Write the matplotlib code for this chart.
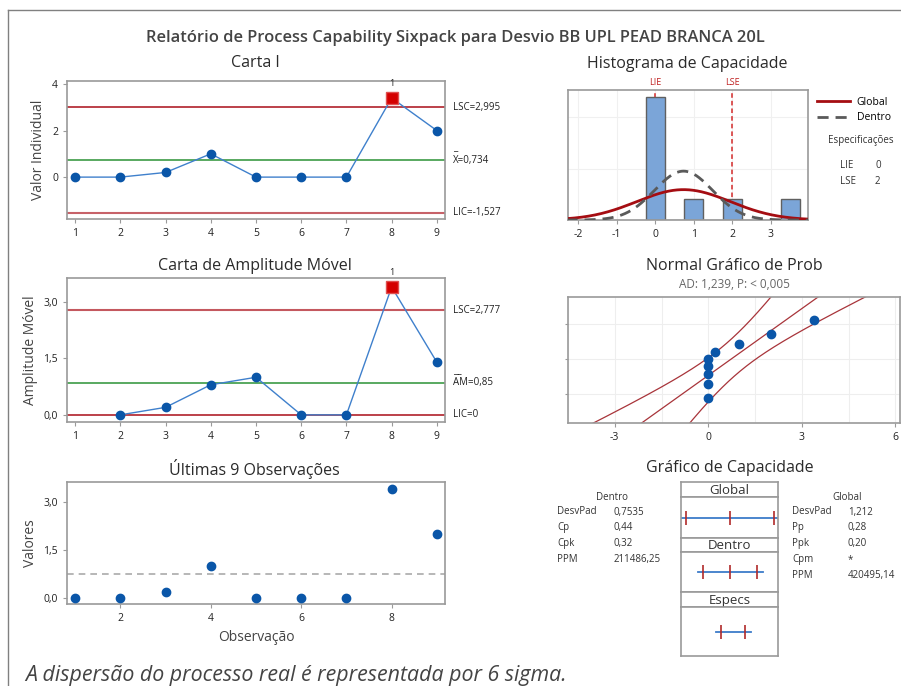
import numpy as np
import matplotlib
matplotlib.use("Agg")
import matplotlib.pyplot as plt
from matplotlib.lines import Line2D
from matplotlib.transforms import blended_transform_factory
from statistics import NormalDist

plt.rcParams['font.family'] = ['Open Sans', 'DejaVu Sans']
plt.rcParams['axes.unicode_minus'] = False

# %% data
obs = [1, 2, 3, 4, 5, 6, 7, 8, 9]
values = [0, 0, 0.2, 1.0, 0, 0, 0, 3.4, 2.0]
mr_obs = [2, 3, 4, 5, 6, 7, 8, 9]
mr_values = [0, 0.2, 0.8, 1.0, 0, 0, 3.4, 1.4]

mean_x = 0.734
lsc_i, lic_i = 2.995, -1.527
lsc_mr, am, lic_mr = 2.777, 0.85, 0
sd_within = 0.7535
sd_overall = 1.212
lie, lse = 0, 2

i_yticks = [0, 2, 4]
mr_yticks = [0, 1.5, 3.0]
mr_yticklabels = ['0,0', '1,5', '3,0']
last_xticks = [2, 4, 6, 8]
hist_xticks = [-2, -1, 0, 1, 2, 3]
prob_xticks = [-3, 0, 3, 6]

within_labels = ['DesvPad', 'Cp', 'Cpk', 'PPM']
within_values = ['0,7535', '0,44', '0,32', '211486,25']
overall_labels = ['DesvPad', 'Pp', 'Ppk', 'Cpm', 'PPM']
overall_values = ['1,212', '0,28', '0,20', '*', '420495,14']

# %% colours
pt_c = '#0a56a8'
ln_c = '#3f80cc'
red_c = '#b0202a'
grn_c = '#3c9b45'
spine_c = '#9a9a9a'
txt_c = '#333333'

W, H = 901, 686
fig = plt.figure(figsize=(W / 100, H / 100), dpi=100)


def px_axes(l, t, r, b):
    return fig.add_axes([l / W, 1 - b / H, (r - l) / W, (b - t) / H])


def style(ax):
    for s in ax.spines.values():
        s.set_color(spine_c)
        s.set_linewidth(1.2)
    ax.tick_params(labelsize=7.5, color=spine_c, labelcolor='#222', length=3, width=0.8)


def ftext(x, y, s, **kw):
    kw.setdefault('color', txt_c)
    return fig.text(x / W, 1 - y / H, s, **kw)


# frame
fig.add_artist(Line2D([8 / W, 8 / W], [0, 1 - 10 / H], transform=fig.transFigure, color='#808080', lw=1))
fig.add_artist(Line2D([8 / W, 1], [1 - 10 / H, 1 - 10 / H], transform=fig.transFigure, color='#808080', lw=1))

ftext(455, 38, 'Relatório de Process Capability Sixpack para Desvio BB UPL PEAD BRANCA 20L',
      ha='center', va='center', fontsize=11.9, fontweight='semibold', color='#444444')

vals = np.array(values)
out = vals > lsc_i
mr = np.array(mr_values)
mr_out = mr > lsc_mr

title_kw = dict(ha='center', va='center', fontsize=11.5, color='#2a2a2a')
small = 7


def limit_label(ax, y, s, bar=None):
    tr = blended_transform_factory(ax.transAxes, ax.transData)
    ax.text(1.02, y, s, transform=tr, fontsize=small, va='center', ha='left', color='#222')
    if bar:
        ax.annotate(bar, xy=(1.02, y), xycoords=tr, xytext=(0, 5), textcoords='offset points',
                    fontsize=small, va='bottom', ha='left', color='#222')


# %% Carta I
ax1 = px_axes(67, 81, 445, 219)
style(ax1)
ax1.axhline(lsc_i, color=red_c, lw=1.2, zorder=1)
ax1.axhline(mean_x, color=grn_c, lw=1.2, zorder=1)
ax1.axhline(lic_i, color=red_c, lw=1.5, alpha=0.7, zorder=1)
ax1.plot(obs, values, color=ln_c, lw=1, zorder=2)
ax1.plot(np.array(obs)[~out], vals[~out], 'o', color=pt_c, ms=6, zorder=3)
ax1.plot(np.array(obs)[out], vals[out], 's', color='#d40000', mec='#e05050', ms=8, zorder=3)
for xo, yo in zip(np.array(obs)[out], vals[out]):
    ax1.annotate('1', (xo, yo), xytext=(0, 7), textcoords='offset points', ha='center',
                 va='bottom', fontsize=6.5, color='#222')
ax1.set_xlim(0.82, 9.18)
ax1.set_ylim(-1.8, 4.13)
ax1.set_xticks(obs)
ax1.set_yticks(i_yticks)
ax1.set_ylabel('Valor Individual', fontsize=10, color='#444')
limit_label(ax1, lsc_i, 'LSC=2,995')
limit_label(ax1, mean_x, 'X=0,734', bar='_')
limit_label(ax1, lic_i, 'LIC=-1,527')
ftext(255, 63, 'Carta I', **title_kw)

# %% Carta de Amplitude Movel
ax2 = px_axes(67, 278, 445, 422)
style(ax2)
ax2.axhline(lsc_mr, color=red_c, lw=1.5, alpha=0.75, zorder=1)
ax2.axhline(am, color=grn_c, lw=1.2, zorder=1)
ax2.axhline(lic_mr, color=red_c, lw=1.2, zorder=1)
ax2.plot(mr_obs, mr_values, color=ln_c, lw=1, zorder=2)
ax2.plot(np.array(mr_obs)[~mr_out], mr[~mr_out], 'o', color=pt_c, ms=6, zorder=3)
ax2.plot(np.array(mr_obs)[mr_out], mr[mr_out], 's', color='#d40000', mec='#e05050', ms=8, zorder=3)
for xo, yo in zip(np.array(mr_obs)[mr_out], mr[mr_out]):
    ax2.annotate('1', (xo, yo), xytext=(0, 7), textcoords='offset points', ha='center',
                 va='bottom', fontsize=6.5, color='#222')
ax2.set_xlim(0.82, 9.18)
ax2.set_ylim(-0.19, 3.64)
ax2.set_xticks(obs)
ax2.set_yticks(mr_yticks)
ax2.set_yticklabels(mr_yticklabels)
ax2.set_ylabel('Amplitude Móvel', fontsize=10, color='#444')
limit_label(ax2, lsc_mr, 'LSC=2,777')
limit_label(ax2, am, 'AM=0,85', bar='__')
limit_label(ax2, lic_mr, 'LIC=0')
ftext(255, 266, 'Carta de Amplitude Móvel', **title_kw)

# %% Ultimas 9 Observacoes
ax3 = px_axes(67, 482, 445, 604)
style(ax3)
ax3.axhline(mean_x, color='#aaaaaa', lw=1.2, ls=(0, (4, 3)), zorder=1)
ax3.plot(obs, values, 'o', color=pt_c, ms=6, zorder=3)
ax3.set_xlim(0.82, 9.18)
ax3.set_ylim(-0.19, 3.62)
ax3.set_xticks(last_xticks)
ax3.set_yticks(mr_yticks)
ax3.set_yticklabels(mr_yticklabels)
ax3.set_ylabel('Valores', fontsize=10, color='#444')
ax3.set_xlabel('Observação', fontsize=10, color='#444')
ftext(254, 469, 'Últimas 9 Observações', **title_kw)

# %% Histograma de Capacidade
ax4 = px_axes(568, 90, 808, 220)
style(ax4)
ax4.set_axisbelow(True)
ax4.grid(True, color='#f0f0f0', lw=0.8)
ax4.hist(values, bins=np.arange(-0.25, 4.0, 0.5), color='#7ba5d8', edgecolor='#606060', lw=1, zorder=2)
xs = np.linspace(-2.3, 4.0, 300)
scale = len(values) * 0.5
pdf_g = scale * np.exp(-0.5 * ((xs - mean_x) / sd_overall) ** 2) / (sd_overall * np.sqrt(2 * np.pi))
pdf_w = scale * np.exp(-0.5 * ((xs - mean_x) / sd_within) ** 2) / (sd_within * np.sqrt(2 * np.pi))
h_g, = ax4.plot(xs, pdf_g, color='#a50d12', lw=2, zorder=4, label='Global')
h_w, = ax4.plot(xs, pdf_w, color='#5a5a5a', lw=2, ls=(0, (4, 2.5)), zorder=4, label='Dentro')
for sx, sl in [(lie, 'LIE'), (lse, 'LSE')]:
    ax4.axvline(sx, color='#d42a2a', lw=1.1, ls=(0, (3, 2)), zorder=1)
    ax4.text(sx, 1.02, sl, transform=blended_transform_factory(ax4.transData, ax4.transAxes),
             ha='center', va='bottom', fontsize=6.5, color='#c02020')
ax4.set_xlim(-2.26, 3.96)
ax4.set_ylim(0, 6.34)
ax4.set_xticks(hist_xticks)
ax4.set_yticks([0, 2.5, 5])
ax4.tick_params(axis='y', length=0, labelleft=False)
ax4.legend(handles=[h_g, h_w], loc='upper left', bbox_to_anchor=(1.02, 0.98), frameon=False,
           fontsize=7.5, handlelength=3.2, handletextpad=0.6, borderaxespad=0, labelspacing=0.45)
ftext(687, 64, 'Histograma de Capacidade', **title_kw)
ftext(861, 141, 'Especificações', ha='center', va='center', fontsize=small)
ftext(840, 165, 'LIE', ha='left', va='center', fontsize=small)
ftext(875, 165, '0', ha='left', va='center', fontsize=small)
ftext(840, 181, 'LSE', ha='left', va='center', fontsize=small)
ftext(875, 181, '2', ha='left', va='center', fontsize=small)

# %% Normal Grafico de Prob
nd = NormalDist()
ax5 = px_axes(568, 297, 900, 423)
style(ax5)
n = len(values)
srt = np.sort(vals)
zq = np.array([nd.inv_cdf((i - 0.3) / (n + 0.4)) for i in range(1, n + 1)])
zz = np.linspace(-2.7, 2.7, 200)
fit = mean_x + sd_overall * zz
half = 1.96 * sd_overall * np.sqrt((1 + zz ** 2 / 2) / n)
for band in (fit, fit - half, fit + half):
    ax5.plot(band, zz, color='#a8343a', lw=0.9, zorder=2)
ax5.plot(srt, zq, 'o', color=pt_c, ms=6, zorder=3)
ax5.set_xlim(-4.22, 6.15)
ax5.set_ylim(-2.37, 2.3)
ax5.set_xticks(prob_xticks)
ax5.set_xticks(np.arange(-4.5, 6.5, 1.5), minor=True)
ax5.set_yticks([nd.inv_cdf(p) for p in (0.1, 0.5, 0.9)])
ax5.tick_params(axis='y', labelleft=False, length=2)
ax5.tick_params(which='minor', length=0)
ax5.set_axisbelow(True)
ax5.grid(True, which='both', color='#eeeeee', lw=0.8)
ftext(734, 266, 'Normal Gráfico de Prob', **title_kw)
ftext(734, 285, 'AD: 1,239, P: < 0,005', ha='center', va='center', fontsize=8.5, color='#666666')

# %% Grafico de Capacidade
cap_xlim = (-3.35, 4.7)
sections = [
    ('Global', 482, 497, 538, mean_x - 3 * sd_overall, mean_x, mean_x + 3 * sd_overall),
    ('Dentro', 538, 552, 592, mean_x - 3 * sd_within, mean_x, mean_x + 3 * sd_within),
    ('Especs', 592, 607, 656, lie, None, lse),
]
for name, t, m, b, lo, mid, hi in sections:
    axh = px_axes(681, t, 778, m)
    axb = px_axes(681, m, 778, b)
    for a in (axh, axb):
        style(a)
        a.set_xticks([])
        a.set_yticks([])
    axh.text(0.5, 0.45, name, transform=axh.transAxes, ha='center', va='center', fontsize=9.5, color=txt_c)
    axb.set_xlim(*cap_xlim)
    axb.set_ylim(0, 1)
    ticks = [v for v in (lo, mid, hi) if v is not None]
    axb.plot([lo - 0.45, hi + 0.45], [0.5, 0.5], color='#3d7cc9', lw=1.3)
    axb.plot(ticks, [0.5] * len(ticks), '|', color='#b02a2a', ms=10, mew=1.2)
ftext(730, 468, 'Gráfico de Capacidade', **title_kw)

ftext(612, 497, 'Dentro', ha='center', va='center', fontsize=small)
for i, (lab, val) in enumerate(zip(within_labels, within_values)):
    ftext(557, 512 + 15.8 * i, lab, ha='left', va='center', fontsize=small)
    ftext(614, 512 + 15.8 * i, val, ha='left', va='center', fontsize=small)
ftext(847, 497, 'Global', ha='center', va='center', fontsize=small)
for i, (lab, val) in enumerate(zip(overall_labels, overall_values)):
    ftext(792, 512 + 15.8 * i, lab, ha='left', va='center', fontsize=small)
    ftext(848, 512 + 15.8 * i, val, ha='left', va='center', fontsize=small)

ftext(25, 676, 'A dispersão do processo real é representada por 6 sigma.', ha='left', va='center',
      fontsize=15.4, style='italic', color='#444444')

fig.savefig('out.png', dpi=100)
